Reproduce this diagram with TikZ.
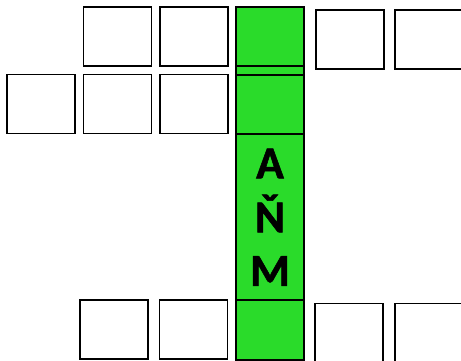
\documentclass[tikz,border=0pt]{standalone}
\usepackage{fontspec}
\setmainfont{Carlito}[BoldFeatures={FakeBold=1.2}]
\usepackage{tikz}
\definecolor{cellgreen}{RGB}{42,219,42}

\begin{document}
\begin{tikzpicture}[x=0.02cm, y=-0.02cm]
	\tikzset{box/.style={draw, line width=1.1pt, minimum width=1.36cm, minimum height=1.18cm, inner sep=0pt},
		cell/.style={draw, line width=1.1pt, fill=cellgreen},
		letter/.style={font=\fontsize{26}{28}\selectfont\bfseries, inner sep=0pt}}
	\useasboundingbox (0,0) rectangle (461,361);
	\clip (0,0) rectangle (461,361);

	% Green column
	\draw[cell] (236,7) rectangle (304,66);
	\draw[cell] (236,66) rectangle (304,75);
	\draw[cell] (236,75) rectangle (304,134);
	\draw[cell] (236,134) rectangle (304,300);
	\draw[cell] (236,300) rectangle (304,360);

	% Letters
	\node[letter] (la) at (270,163.5) {A};
	\node[letter] (ln) at (270,213.5) {Ň};
	\node[letter] (lm) at (270,271) {M};

	% Top row
	\node[box] (t1) at (117.5,36.5) {};
	\node[box] (t2) at (194,36.5) {};
	\node[box] (t3) at (350,39.5) {};
	\node[box] (t4) at (429,39.5) {};

	% Second row
	\node[box] (s1) at (41,104) {};
	\node[box] (s2) at (117.5,104) {};
	\node[box] (s3) at (194,104) {};

	% Bottom row
	\node[box] (b1) at (114,329.5) {};
	\node[box] (b2) at (193.5,329.5) {};
	\node[box] (b3) at (349,333) {};
	\node[box] (b4) at (429,333) {};
\end{tikzpicture}
\end{document}
